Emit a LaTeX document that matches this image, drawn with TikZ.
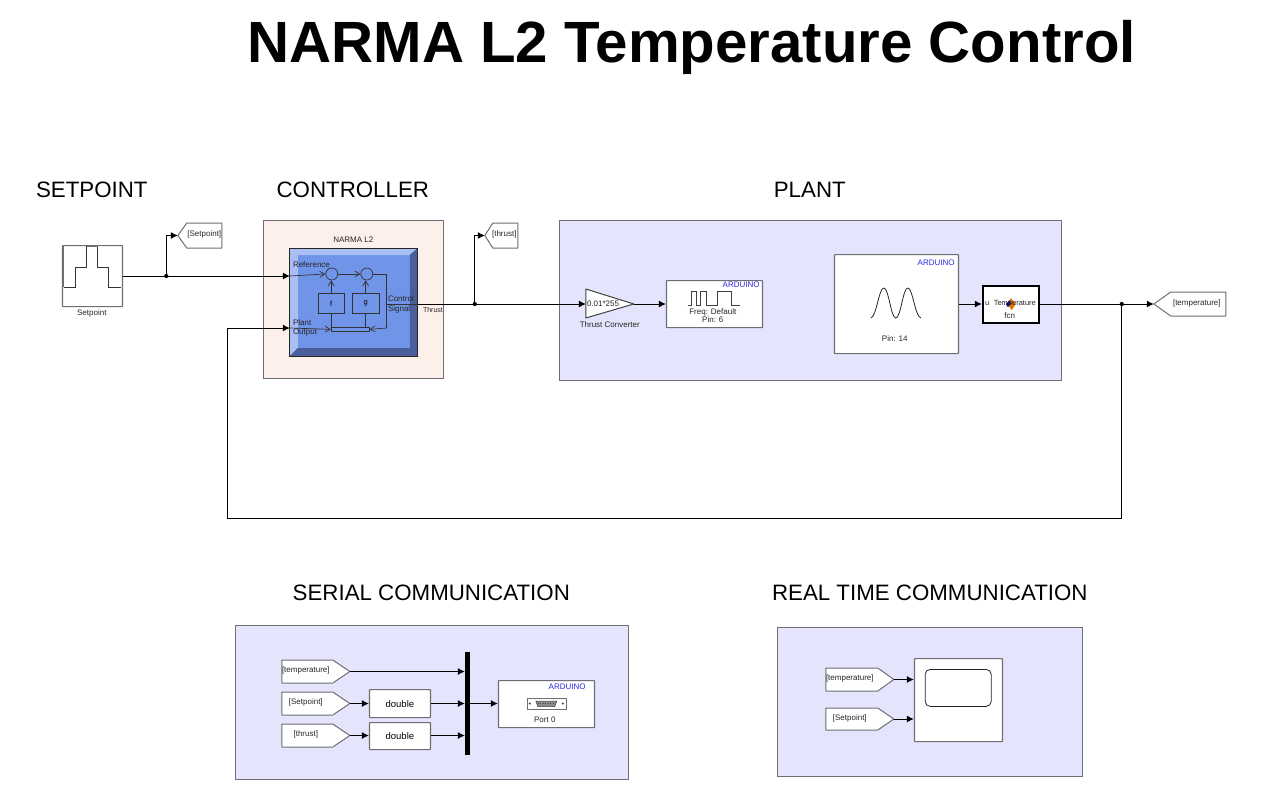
\documentclass[tikz,border=0pt]{standalone}
\usepackage{fontspec}
\setmainfont{Liberation Sans}
\usetikzlibrary{arrows.meta,calc}
\definecolor{panelblue}{HTML}{E4E4FC}
\definecolor{panelrose}{HTML}{FDEFE9}
\definecolor{edge}{HTML}{6E6E74}
\definecolor{ardblue}{HTML}{2A2AE0}
\definecolor{bevmain}{HTML}{7094E8}
\definecolor{bevlight}{HTML}{A9BEF2}
\definecolor{bevdark}{HTML}{4A5E9C}
\newcommand{\fsz}[1]{\fontsize{#1}{#1}\selectfont}
\tikzset{
  x=1pt,y=-1pt,
  panel/.style={draw=edge,line width=0.9pt,anchor=north west,inner sep=0pt},
  block/.style={draw=edge,fill=white,line width=1.2pt,anchor=north west,inner sep=0pt,rounded corners=0.6pt},
  wire/.style={draw=black,line width=0.85pt},
  arrowwire/.style={wire,-{Latex[length=7pt,width=7pt]}},
  openwire/.style={draw=black!80,line width=0.7pt,-{Straight Barb[length=5pt,width=6pt]}},
  dotj/.style={circle,fill=black,inner sep=0pt,minimum size=4.2pt},
  tiny/.style={font=\fsz{8},text=black!85,inner sep=0pt},
  ard/.style={font=\fsz{8},text=ardblue,inner sep=0pt,anchor=east},
  head/.style={font=\fsz{22.3},inner sep=0pt},
  tagshape/.style={draw=edge,fill=white,line width=1pt,line join=round},
  inner/.style={draw=black!80,line width=0.7pt},
  narmatxt/.style={font=\fsz{8},text=black!85,inner sep=0pt,anchor=west},
}
% right-pointing tag: name, x1, flat x, tip x, top, bottom, text centre x, text
\newcommand{\fromtag}[8]{%
  \draw[tagshape] (#2,#5) -- (#3,#5) -- (#4,{(#5+#6)/2}) -- (#3,#6) -- (#2,#6) -- cycle;
  \coordinate (#1) at (#4,{(#5+#6)/2});
  \node[tiny] (#1-t) at (#7,{(#5+#6)/2-1}) {#8};
}
% left-pointing tag: name, tip x, flat x, x2, top, bottom, text centre x, text
\newcommand{\gototag}[8]{%
  \draw[tagshape] (#2,{(#5+#6)/2}) -- (#3,#5) -- (#4,#5) -- (#4,#6) -- (#3,#6) -- cycle;
  \coordinate (#1) at (#2,{(#5+#6)/2});
  \node[tiny] (#1-t) at (#7,{(#5+#6)/2-1}) {#8};
}
\begin{document}
\begin{tikzpicture}
\useasboundingbox (0,0) rectangle (1279,788);
\fill[white] (0,0) rectangle (1279,788);
\begin{scope}[xshift=-0.2pt]

% titles
\node[font=\bfseries\fsz{58.2},inner sep=0pt] (title) at (692,47.5) {NARMA L2 Temperature Control};
\node[head] (hset) at (92,189.5) {SETPOINT};
\node[head] (hctl) at (353,189.5) {CONTROLLER};
\node[head] (hpl) at (810,189.5) {PLANT};
\node[head] (hser) at (431.5,592.5) {SERIAL COMMUNICATION};
\node[head] (hrt) at (930,592.5) {REAL TIME COMMUNICATION};

% panels
\node[panel,fill=panelrose,minimum width=180pt,minimum height=158pt] (pctl) at (263,220) {};
\node[panel,fill=panelblue,minimum width=502pt,minimum height=160pt] (ppl) at (559,220) {};
\node[panel,fill=panelblue,minimum width=393pt,minimum height=154pt] (pser) at (235,625) {};
\node[panel,fill=panelblue,minimum width=305pt,minimum height=149pt] (prt) at (777,627) {};

% setpoint source
\node[block,minimum width=60pt,minimum height=61pt] (sp) at (62,245) {};
\draw[draw=black!80,line width=0.8pt] (64,287) -- (76,287) -- (76,267) -- (87,267) -- (87,246.5) -- (98,246.5) -- (98,267) -- (109,267) -- (109,287) -- (121,287);
\draw[draw=edge,line width=1.2pt] (64,246) -- (64,287);
\draw[draw=edge,line width=1.2pt] (87,246.5) -- (98,246.5);
\node[tiny] (splbl) at (92,313) {Setpoint};
\gototag{tagsp}{178}{187}{222}{223}{248}{204.5}{[Setpoint]}

% NARMA block
\node[tiny] (narmalbl) at (353.5,240) {NARMA L2};
\node[fill=bevmain,inner sep=0pt,anchor=north west,minimum width=128pt,minimum height=108pt] (narma) at (290,248) {};
\fill[bevlight] (290,248) -- (418,248) -- (410,255) -- (298,255) -- (298,348) -- (290,356) -- cycle;
\fill[bevdark] (418,248) -- (418,356) -- (290,356) -- (298,348) -- (410,348) -- (410,255) -- cycle;
\draw[black!85,line width=0.7pt] (290,248) rectangle (418,356);
\coordinate (nref) at (290,276);
\coordinate (nplt) at (290,328);
\coordinate (nout) at (418,304);
\coordinate (ncorner) at (387,274);
\coordinate (nlow) at (387,328);
\coordinate (nmid) at (387,304);
\node[inner,circle,inner sep=0pt,minimum size=12pt] (s1) at (332,274) {};
\node[inner,circle,inner sep=0pt,minimum size=12pt] (s2) at (367,274) {};
\node[inner,anchor=north west,inner sep=0pt,minimum width=26pt,minimum height=20pt,font=\fsz{7.5}] (fb) at (318,293) {f};
\node[inner,anchor=north west,inner sep=0pt,minimum width=27pt,minimum height=20pt,font=\fsz{7.5}] (gb) at (352,293) {g};
\node[inner,anchor=north west,inner sep=0pt,minimum width=38pt,minimum height=4pt] (bar) at (331,327) {};
\draw[openwire] (nref) -- (s1.west);
\draw[openwire] (s1.east) -- (s2.west);
\draw[inner] (s2.east) -- (ncorner) -- (nlow);
\draw[openwire] (nlow) -- (bar.east);
\draw[openwire] (nplt) -- (bar.west);
\draw[openwire] (fb.north) -- (fb.north |- s1.south);
\draw[openwire] (gb.north) -- (gb.north |- s2.south);
\draw[inner] (bar.north -| fb.south) -- (fb.south);
\draw[inner] (bar.north -| gb.south) -- (gb.south);
\draw[inner] (nmid) -- (nout);
\node[narmatxt] (tref) at (293,265) {Reference};
\node[narmatxt] (tplant) at (293,323) {Plant};
\node[narmatxt] (toutp) at (293,333) {Output};
\node[narmatxt] (tctl) at (388,299) {Control};
\node[narmatxt] (tsig) at (388,309) {Signal};
\node[tiny,anchor=west,font=\fsz{7}] (tthr) at (423,310) {Thrust};

% thrust tag
\gototag{tagthr}{485}{493}{518}{223}{248}{504.5}{[thrust]}

% gain
\draw[tagshape,draw=black!75] (586,289) -- (634,304) -- (586,318) -- cycle;
\coordinate (gainin) at (586,304);
\coordinate (gainout) at (634,304);
\node[tiny,anchor=west] (gaintxt) at (587,304) {0.01*255};
\node[tiny] (gainlbl) at (610,325) {Thrust Converter};

% PWM block
\node[block,minimum width=96pt,minimum height=47pt] (pwm) at (666,280) {};
\node[ard] (pwma) at (760,285) {ARDUINO};
\draw[draw=black!75,line width=0.8pt] (688,305) -- (692,305) -- (692,291) -- (697,291) -- (697,305) -- (701,305) -- (701,291) -- (707,291) -- (707,305) -- (718,305) -- (718,291) -- (732,291) -- (732,305) -- (740,305);
\node[tiny] (pwmf) at (713,312.5) {Freq: Default};
\node[tiny] (pwmp) at (713,320) {Pin: 6};

% analog input
\node[block,minimum width=124pt,minimum height=99pt] (adc) at (834,254) {};
\node[ard] (adca) at (955,263) {ARDUINO};
\draw[draw=black!85,line width=0.8pt] (871,318) .. controls (877,316) and (879,288) .. (884,288) .. controls (889,288) and (891,318) .. (896,318) .. controls (901,318) and (903,288) .. (908,288) .. controls (913,288) and (915,316) .. (921,318);
\node[tiny] (adcp) at (895,339) {Pin: 14};

% fcn
\node[draw=black,fill=white,line width=1.9pt,anchor=north west,inner sep=0pt,minimum width=56pt,minimum height=37pt] (fcn) at (982,285) {};
\fill[orange!90!black] (1011,298) -- (1016,304) -- (1012,310) -- (1008,305) -- cycle;
\fill[blue!60!black] (1006,304) -- (1010,300) -- (1011,304) -- (1008,307) -- cycle;
\node[tiny,anchor=west,font=\fsz{7.5}] (fu) at (985,304) {u};
\node[tiny,font=\fsz{7.5}] (ftemp) at (1015,303.5) {Temperature};
\node[tiny] (ffcn) at (1010,316) {fcn};

% temperature goto
\gototag{tagtemp}{1154}{1171}{1226}{292}{316}{1197}{[temperature]}

% top level connectors
\coordinate (j1) at (166.5,276);
\coordinate (j2) at (475,304);
\coordinate (j3) at (1122,304);
\coordinate (fb1) at (1122,518);
\coordinate (fb2) at (228,518);
\coordinate (fb3) at (228,328);
\draw[wire] (sp.east |- j1) -- (j1);
\draw[arrowwire] (j1) -- (nref);
\draw[arrowwire] (j1) |- (tagsp);
\draw[wire] (nout) -- (j2);
\draw[arrowwire] (j2) -- (gainin);
\draw[arrowwire] (j2) |- (tagthr);
\draw[arrowwire] (gainout) -- (pwm.west |- gainout);
\draw[arrowwire] (adc.east |- gainout) -- (fcn.west |- gainout);
\draw[wire] (fcn.east |- gainout) -- (j3);
\draw[arrowwire] (j3) -- (tagtemp);
\draw[arrowwire] (j3) -- (fb1) -- (fb2) -- (fb3) -- (nplt);
\node[dotj] (j1d) at (j1) {};
\node[dotj] (j2d) at (j2) {};
\node[dotj] (j3d) at (j3) {};

% serial communication
\fromtag{stemp}{282}{333}{350}{660}{683}{306}{[temperature]}
\fromtag{sset}{282}{333}{350}{692}{715}{306}{[Setpoint]}
\fromtag{sthr}{282}{333}{350}{724}{747}{306}{[thrust]}
\node[block,minimum width=61pt,minimum height=28pt,font=\fsz{9.5}] (d1) at (369,689) {double};
\node[block,minimum width=61pt,minimum height=27pt,font=\fsz{9.5}] (d2) at (369,722) {double};
\node[fill=black,anchor=north west,inner sep=0pt,minimum width=5pt,minimum height=103pt] (mux) at (465,652) {};
\node[block,minimum width=96pt,minimum height=47pt] (ser) at (498,680) {};
\node[ard] (sera) at (586,687) {ARDUINO};
\node[draw=edge,fill=white,line width=0.7pt,anchor=north west,inner sep=0pt,minimum width=39pt,minimum height=11pt] (serp) at (527,698) {};
\fill[black!45] (536,701) -- (557,701) -- (555,706.5) -- (538,706.5) -- cycle;
\draw[black!75,line width=0.5pt] (536,701) -- (557,701) -- (555,706.5) -- (538,706.5) -- cycle;
\draw[black!75,dotted,line width=0.5pt] (538,703.5) -- (555,703.5);
\fill[black!70] (530,703.5) circle (1.2pt) (563,703.5) circle (1.2pt);
\node[tiny] (serl) at (545,720) {Port 0};
\draw[arrowwire] (stemp) -- (mux.west |- stemp);
\draw[arrowwire] (sset) -- (d1.west |- sset);
\draw[arrowwire] (sthr) -- (d2.west |- sthr);
\draw[arrowwire] (d1.east |- sset) -- (mux.west |- sset);
\draw[arrowwire] (d2.east |- sthr) -- (mux.west |- sthr);
\draw[arrowwire] (mux.east |- sset) -- (ser.west |- sset);

% real time communication
\fromtag{rtemp}{826}{878}{894}{668}{691}{850}{[temperature]}
\fromtag{rset}{826}{878}{894}{708}{730}{850}{[Setpoint]}
\node[block,minimum width=88pt,minimum height=83pt] (scope) at (914,658) {};
\node[draw=black!85,fill=white,line width=0.8pt,rounded corners=5pt,anchor=north west,inner sep=0pt,minimum width=66pt,minimum height=37pt] (screen) at (925,669) {};
\draw[arrowwire] (rtemp) -- (scope.west |- rtemp);
\draw[arrowwire] (rset) -- (scope.west |- rset);
\end{scope}
\end{tikzpicture}
\end{document}
